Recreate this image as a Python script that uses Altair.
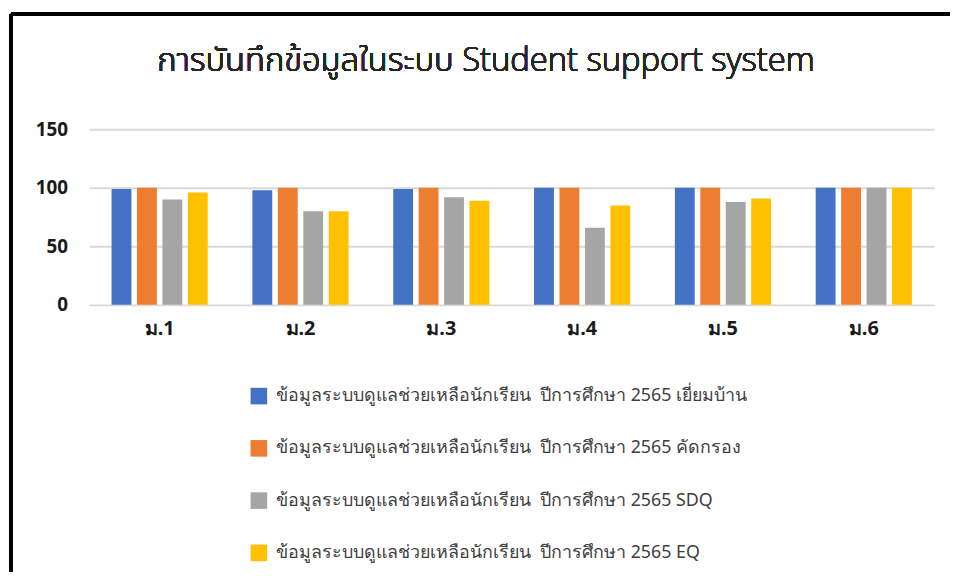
import altair as alt
import pandas as pd

title_text = "การบันทึกข้อมูลในระบบ Student support system"
classes = ["ม.1", "ม.2", "ม.3", "ม.4", "ม.5", "ม.6"]
series = [
    "ข้อมูลระบบดูแลช่วยเหลือนักเรียน\u00a0 ปีการศึกษา 2565 เยี่ยมบ้าน",
    "ข้อมูลระบบดูแลช่วยเหลือนักเรียน\u00a0 ปีการศึกษา 2565 คัดกรอง",
    "ข้อมูลระบบดูแลช่วยเหลือนักเรียน\u00a0 ปีการศึกษา 2565 SDQ",
    "ข้อมูลระบบดูแลช่วยเหลือนักเรียน\u00a0 ปีการศึกษา 2565 EQ",
]
home_visit = [99, 98, 99, 100, 100, 100]
screening = [100, 100, 100, 100, 100, 100]
sdq = [90, 80, 92, 66, 88, 100]
eq = [96, 80, 89, 85, 91, 100]
colors = ["#4472C4", "#ED7D31", "#A5A5A5", "#FFC000"]

rows = []
for s, vals in zip(series, [home_visit, screening, sdq, eq]):
    for c, v in zip(classes, vals):
        rows.append({"class": c, "series": s, "value": v})
df = pd.DataFrame(rows)

FONT = "Noto Sans"
TITLE_FONT = ("'Open Sans', 'Leelawadee UI', 'Noto Sans Thai', 'Noto Sans Thai UI', "
              "'Noto Sans Thai Looped', Sarabun, Loma, Garuda, Waree, Umpush, 'Tlwg Typo', "
              "Kinnari, Norasi, sans-serif")

bars = alt.Chart(df).mark_bar().encode(
    x=alt.X("class:N", sort=classes, title=None,
            scale=alt.Scale(paddingInner=0.317, paddingOuter=0.158),
            axis=alt.Axis(labelAngle=0, ticks=False, domain=False,
                          labelFontSize=20, labelFontWeight="bold",
                          labelColor="#1a1a1a", labelPadding=14, labelFont=FONT)),
    xOffset=alt.XOffset("series:N", sort=series,
                        scale=alt.Scale(paddingInner=0.22, paddingOuter=0)),
    y=alt.Y("value:Q", title=None,
            scale=alt.Scale(domain=[0, 150], nice=False),
            axis=alt.Axis(values=[0, 50, 100, 150], ticks=False, domain=False,
                          labelFontSize=19, labelFontWeight="bold",
                          labelColor="#1a1a1a", labelPadding=22, labelFont=FONT,
                          gridColor="#d9d9d9", gridWidth=2)),
    color=alt.Color("series:N", sort=series,
                    scale=alt.Scale(domain=series, range=colors),
                    legend=alt.Legend(title=None, orient="none", legendX=162, legendY=260,
                                      symbolType="square", symbolSize=280,
                                      symbolStrokeWidth=0, labelFontSize=18,
                                      labelFont=FONT, labelColor="#404040",
                                      labelOffset=8, rowPadding=34.7, padding=0,
                                      labelLimit=600)),
)

title = alt.Chart(df).mark_text(
    fontSize=33, font=TITLE_FONT, fontWeight=300, color="#262626",
    align="center", baseline="alphabetic"
).encode(x=alt.value(400), y=alt.value(-59), text=alt.value(title_text))

left_border = alt.Chart(df).mark_rule(color="black", strokeWidth=3).encode(
    x=alt.value(-79), y=alt.value(-116), y2=alt.value(460))
top_border = alt.Chart(df).mark_rule(color="black", strokeWidth=3).encode(
    x=alt.value(-79), x2=alt.value(870), y=alt.value(-116))

chart = alt.layer(bars, title, left_border, top_border).properties(
    width=852, height=177,
    autosize=alt.AutoSizeParams(type="none"),
    padding={"left": 82, "top": 120, "right": 16, "bottom": 267},
).configure_view(stroke=None)

chart.save("out.html", embed_options={"renderer": "svg", "actions": False})
